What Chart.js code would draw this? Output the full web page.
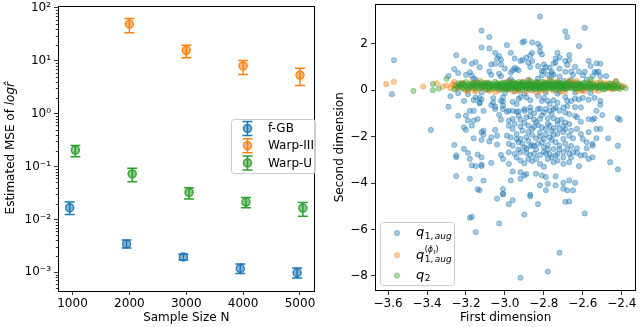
<!DOCTYPE html>
<html><head><meta charset="utf-8">
<script src="https://cdn.jsdelivr.net/npm/chart.js@4.4.0/dist/chart.umd.min.js"></script>
<style>
html,body{margin:0;padding:0;background:#fff;}
#wrap{position:relative;width:640px;height:327px;overflow:hidden;}
.c{position:absolute;top:0;width:320px;height:327px;}
</style></head><body>
<div id="wrap">
<div class="c" style="left:0"><canvas id="left" width="320" height="327"></canvas></div>
<div class="c" style="left:320px"><canvas id="right" width="320" height="327"></canvas></div>
</div>
<script>
// ---------- left panel data ----------
const sampleSizes = [1000, 2000, 3000, 4000, 5000];
const seriesNames = ['f-GB', 'Warp-III', 'Warp-U'];
const fgbMean = [0.0167, 0.00343, 0.00195, 0.00118, 0.00098];
const fgbLow  = [0.0124, 0.00288, 0.00170, 0.00095, 0.00078];
const fgbHigh = [0.0213, 0.00410, 0.00219, 0.00143, 0.00120];
const warp3Mean = [null, 49.4, 15.8, 8.0, 5.37];
const warp3Low  = [null, 34.0, 11.4, 5.5, 3.4];
const warp3High = [null, 63.0, 19.6, 10.1, 7.26];
const warpUMean = [0.205, 0.0726, 0.0324, 0.0213, 0.0164];
const warpULow  = [0.153, 0.0514, 0.0243, 0.0167, 0.0115];
const warpUHigh = [0.250, 0.0927, 0.0397, 0.0261, 0.0210];
const leftYTicks = [1e-3, 1e-2, 1e-1, 1, 10, 100];
const leftYTickLabels = ['10\u207B\u00B3', '10\u207B\u00B2', '10\u207B\u00B9', '10\u2070', '10\u00B9', '10\u00B2'];

// ---------- right panel data ----------
const rightXTicks = [-3.6, -3.4, -3.2, -3.0, -2.8, -2.6, -2.4];
const rightYTicks = [2, 0, -2, -4, -6, -8];
const q1aug = [
[-2.82,3.17],[-2.59,2.69],[-3.12,2.57],[-2.69,2.53],[-3.08,2.29],[-2.68,2.29],[-2.99,1.94],[-3.12,1.84],[-3.08,1.80],[-3.05,1.61],
[-2.97,1.61],[-3.03,1.47],[-2.91,2.06],[-2.90,2.11],[-2.83,2.00],[-2.82,1.87],[-2.86,1.61],[-2.82,1.66],[-2.81,1.54],[-2.87,1.50],
[-2.73,1.61],[-2.74,1.37],[-2.67,1.51],[-2.62,1.90],[-2.69,1.26],[-3.25,1.51],[-3.57,1.29],[-3.21,1.26],[-3.17,1.14],[-3.07,1.11],
[-3.02,1.31],[-2.95,1.37],[-2.92,1.26],[-2.89,1.40],[-2.88,1.19],[-2.93,0.86],[-2.96,0.86],[-3.00,0.93],[-3.02,1.11],[-3.03,0.71],
[-3.07,0.66],[-3.08,0.81],[-3.13,0.99],[-3.18,0.77],[-3.16,0.50],[-3.26,0.91],[-3.24,0.74],[-3.29,0.61],[-3.17,0.63],[-2.83,1.04],
[-2.81,0.83],[-2.79,1.00],[-2.76,0.80],[-2.75,1.16],[-2.72,0.93],[-2.68,1.09],[-2.64,1.01],[-2.62,0.80],[-2.59,0.79],[-2.57,1.26],
[-2.56,1.04],[-2.54,0.79],[-2.53,1.16],[-2.51,1.14],[-2.52,0.80],[-2.55,0.61],[-2.51,0.61],[-2.60,0.64],[-2.65,0.66],[-2.69,0.79],
[-2.72,0.59],[-2.75,0.66],[-2.78,0.66],[-2.81,0.64],[-2.86,2.06],[-2.72,1.40],[-2.67,1.29],[-2.74,1.19],[-2.91,1.30],[-2.86,1.26],
[-2.87,1.00],[-2.80,1.11],[-2.77,0.97],[-2.80,0.83],[-2.66,0.80],[-2.53,0.76],[-2.95,0.96],[-2.94,0.91],[-2.76,0.69],[-2.48,0.61],
[-2.97,0.76],[-3.04,1.37],[-3.15,1.21],[-3.05,1.14],[-3.20,0.66],[-3.02,0.60],[-3.19,-0.17],[-3.15,-0.31],
[-3.58,-0.17],[-3.28,-0.26],[-3.24,-0.13],[-3.21,-0.46],[-3.16,-0.43],[-3.13,-0.56],[-3.12,-0.39],[-3.06,-0.34],[-3.07,-0.64],[-3.11,-0.89],
[-3.05,-0.71],[-3.02,-0.46],[-3.01,-0.81],[-2.96,-0.50],[-2.94,-0.60],[-2.93,-0.37],[-2.92,-0.29],[-2.89,-0.31],[-2.87,-0.43],[-2.83,-0.24],
[-2.81,-0.46],[-2.80,-0.33],[-2.78,-0.46],[-2.77,-0.60],[-2.75,-0.43],[-2.73,-0.54],[-2.69,-0.30],[-2.68,-0.46],[-2.66,-0.47],[-2.64,-0.36],
[-2.62,-0.40],[-2.60,-0.33],[-2.57,-0.41],[-2.54,-0.33],[-2.51,-0.46],[-2.51,-0.63],[-2.61,-0.74],[-2.64,-0.73],[-2.68,-0.69],[-2.70,-0.74],
[-2.74,-0.76],[-2.79,-0.81],[-2.82,-0.79],[-2.87,-0.74],[-2.90,-0.81],[-2.93,-0.91],[-2.96,-0.89],[-2.99,-0.93],[-3.29,-0.71],
[-3.14,-1.24],[-3.19,-1.31],[-3.17,-1.53],[-3.20,-1.71],[-3.38,-1.71],[-3.16,-2.07],[-3.12,-1.81],[-3.11,-1.74],[-3.11,-1.91],[-3.12,-2.14],
[-3.08,-2.21],[-3.07,-2.03],[-3.04,-1.96],[-3.04,-2.34],[-3.05,-1.71],[-3.03,-1.06],[-3.02,-1.27],[-3.05,-0.81],[-3.06,-0.53],[-3.13,-0.34],
[-3.13,-0.53],[-3.01,-0.31],[-3.01,-0.49],[-3.01,-0.67],[-3.26,-2.36],[-3.21,-2.53],[-3.19,-2.70],[-3.25,-2.81],[-3.25,-2.89],[-3.18,-2.96],
[-3.14,-2.77],[-3.12,-2.89],[-3.17,-3.24],[-3.15,-3.27],[-3.12,-3.21],[-3.12,-3.27],[-3.07,-3.13],[-3.02,-2.79],[-3.01,-2.96],[-3.25,-3.70],
[-3.18,-3.81],[-3.11,-3.89],[-3.14,-4.27],[-3.01,-4.26],[-3.01,-4.47],[-3.18,-0.89],[-3.16,-0.89],[-3.24,-1.10],[-3.21,-1.60],[-3.20,-1.09],
[-3.16,-1.31],
[-2.98,-0.89],[-2.94,-0.93],[-2.90,-0.89],[-2.87,-0.89],[-2.85,-0.99],[-2.83,-0.81],[-2.80,-0.96],[-2.77,-0.89],[-2.75,-0.81],[-2.72,-0.89],
[-2.69,-0.96],[-2.67,-1.03],[-2.64,-1.10],[-2.63,-1.17],[-2.57,-1.24],[-2.54,-1.21],[-2.53,-0.89],[-2.50,-1.07],[-2.42,-1.21],[-2.41,-1.27],
[-2.98,-1.31],[-2.96,-1.24],[-2.92,-1.27],[-2.89,-1.17],[-2.85,-1.27],[-2.82,-1.24],[-2.78,-1.21],[-2.75,-1.21],[-2.71,-1.27],[-2.69,-1.39],
[-2.67,-1.46],[-2.61,-1.36],[-2.55,-1.27],[-2.98,-1.53],[-2.96,-1.67],[-2.92,-1.56],[-2.91,-1.74],[-2.88,-1.53],[-2.86,-1.67],[-2.83,-1.50],
[-2.81,-1.60],[-2.79,-1.67],[-2.77,-1.53],[-2.75,-1.64],[-2.73,-1.46],[-2.72,-1.67],[-2.69,-1.67],[-2.66,-1.74],[-2.63,-1.67],[-2.61,-1.89],
[-2.57,-1.81],[-2.53,-1.67],[-2.51,-1.67],[-2.47,-2.07],[-2.99,-1.96],[-2.97,-2.03],[-2.94,-1.89],[-2.92,-2.10],[-2.89,-2.03],[-2.86,-1.93],
[-2.84,-2.07],[-2.82,-1.99],[-2.80,-2.10],[-2.77,-2.03],[-2.75,-1.93],[-2.74,-2.24],[-2.70,-2.10],[-2.67,-1.96],[-2.65,-2.07],[-2.60,-2.10],
[-2.58,-2.24],[-2.55,-2.31],[-2.53,-2.07],[-2.98,-2.31],[-2.96,-2.39],[-2.93,-2.24],[-2.90,-2.46],[-2.87,-2.41],[-2.86,-2.36],[-2.83,-2.31],
[-2.80,-2.46],[-2.78,-2.36],[-2.75,-2.53],[-2.72,-2.39],[-2.70,-2.67],[-2.68,-2.53],[-2.65,-2.67],[-2.63,-2.50],[-2.58,-2.50],[-2.55,-2.39],
[-2.59,-2.79],[-2.55,-2.89],[-2.98,-2.67],[-2.95,-2.74],[-2.92,-2.67],[-2.89,-2.53],[-2.87,-2.79],[-2.85,-2.74],[-2.82,-2.79],[-2.79,-2.74],
[-2.76,-2.89],[-2.74,-2.81],[-2.67,-2.74],[-2.61,-2.81],[-2.42,-2.39],[-2.46,-3.10],[-2.42,-3.41],[-2.98,-3.17],[-2.92,-3.03],[-2.88,-2.96],
[-2.84,-2.96],[-2.82,-3.17],[-2.78,-2.96],[-2.75,-3.10],[-2.73,-3.03],[-2.70,-3.17],[-2.67,-3.10],[-2.62,-3.27],[-2.57,-2.96],[-2.96,-3.50],
[-2.92,-3.53],[-2.90,-3.67],[-2.89,-3.61],[-2.84,-3.60],[-2.81,-3.67],[-2.79,-3.74],[-2.74,-3.71],[-2.97,-3.89],[-2.92,-3.81],[-2.82,-4.10],
[-2.78,-4.03],[-2.74,-4.10],[-2.70,-3.99],[-2.67,-3.89],[-2.64,-3.99],[-2.70,-4.24],[-2.68,-4.31],[-2.79,-4.31],[-2.87,-4.50],
[-2.98,-4.91],[-2.96,-4.74],[-2.87,-4.57],[-2.83,-4.91],[-2.65,-4.31],[-2.69,-4.81],[-2.67,-4.79],[-2.90,-5.36],[-2.59,-5.31],[-2.72,-7.00],
[-2.78,-7.81],[-2.92,-8.08],[-3.13,-4.31],[-3.04,-4.67],[-3.01,-4.48],[-3.18,-5.50],[-3.17,-5.46],[-3.03,-5.74],[-3.15,-6.11],
[-3.08,0.30],[-3.03,0.05],[-2.98,0.40],[-2.95,-0.05],[-2.92,0.20],[-2.88,0.45],[-2.86,0.00],[-2.84,0.35],[-2.81,0.15],[-2.79,-0.10],
[-2.77,0.45],[-2.75,0.25],[-2.72,-0.05],[-2.70,0.40],[-2.68,0.10],[-2.66,0.45],[-2.64,-0.10],[-2.62,0.30],[-2.60,0.00],[-2.58,0.45],
[-2.56,-0.12],[-3.12,-0.10],[-3.15,0.45],[-2.90,-0.15],[-2.83,0.50],[-2.73,-0.15],[-2.97,0.48],[-3.00,-0.12],
[-2.93,-1.10],[-2.90,-1.40],[-2.87,-1.12],[-2.84,-1.38],[-2.81,-1.08],[-2.78,-1.45],[-2.76,-1.02],[-2.73,-1.30],[-2.70,-1.55],[-2.95,-1.45],
[-2.88,-1.80],[-2.85,-1.58],[-2.82,-1.82],[-2.79,-1.90],[-2.76,-1.75],[-2.73,-1.88],[-2.70,-1.80],[-2.94,-2.10],[-2.91,-2.30],[-2.88,-2.18],
[-2.85,-2.40],[-2.81,-2.25],[-2.78,-2.55],[-2.76,-2.15],[-2.72,-2.55],[-2.69,-2.30],[-2.66,-2.40],[-2.93,-2.55],[-2.89,-2.70],[-2.84,-2.55],
[-2.80,-2.65],[-2.77,-2.75],[-2.73,-2.75],[-2.70,-2.90],[-2.66,-2.90],[-2.63,-2.70],[-2.94,-2.90],[-2.90,-3.15],[-2.86,-3.05],[-2.80,-3.30]
];
const q1augPhi = [
[-3.61,0.26],[-3.57,0.36],[-3.42,0.16],[-3.26,0.36],[-3.28,0.09],
[-3.19,-0.03],[-3.16,0.00],[-3.12,0.09],[-3.08,-0.03],[-3.06,0.04],[-3.02,0.09],[-2.94,0.00],[-2.89,-0.06],[-2.79,-0.03],[-2.69,0.09],
[-2.63,-0.03],[-2.77,0.43],[-2.68,0.40],[-2.63,0.40],[-2.53,0.33],[-2.48,0.23],[-2.42,0.09],[-2.40,0.14],[-2.45,0.04],[-2.58,0.09],
[-2.52,-0.03],[-2.43,0.40],[-3.23,0.12],[-3.21,0.28],[-3.18,0.15],[-3.14,0.30],[-3.11,0.20],[-3.10,0.02],[-3.07,0.14],[-3.04,0.25],
[-3.01,0.16],[-2.99,0.03],[-2.97,0.20],[-2.95,0.29],[-2.92,0.11],[-2.90,0.22],[-2.87,0.02],[-2.85,0.17],[-2.83,0.27],[-2.81,0.06],
[-2.78,0.19],[-2.76,0.11],[-2.74,0.32],[-2.72,0.05],[-2.70,0.21],[-2.67,0.15],[-2.65,0.26],[-2.62,0.08],[-2.60,0.18],[-2.57,0.28],
[-2.55,0.12],[-2.50,0.19],[-2.47,0.30],[-2.44,0.17],[-3.05,-0.08],[-2.96,-0.05],[-2.84,-0.10],[-2.71,-0.07],[-2.59,-0.05],[-3.13,0.40],
[-2.98,0.38],[-2.88,0.41],[-2.66,0.38],[-2.51,0.36],
[-3.30,0.20],[-3.27,0.25],[-3.25,0.06],[-3.22,0.33],[-3.20,0.00],[-3.17,0.36],[-3.15,-0.05],[-3.09,0.33],[-3.03,-0.02],[-3.00,0.34],
[-2.93,-0.03],[-2.91,0.37],[-2.86,0.35],[-2.82,-0.04],[-2.80,0.36],[-2.75,-0.02],[-2.73,0.38],[-2.69,-0.06],[-2.64,0.33],[-2.61,-0.02],
[-2.56,0.35],[-2.54,0.02],[-2.49,0.30],[-2.46,0.08],[-2.44,0.28],[-2.41,0.22],[-2.39,0.18],[-3.32,0.15],[-3.35,0.30],[-2.57,0.16],
[-2.52,0.21],[-2.48,0.13],[-3.26,0.22],[-3.24,0.16]
];
const q2 = [
[-3.47,-0.03],[-3.37,0.27],[-3.37,0.00],[-3.34,0.07],[-3.30,0.49],[-3.26,0.04],[-3.23,0.26],
[-3.25,0.18],[-3.24,0.30],[-3.22,0.10],[-3.21,0.22],[-3.20,0.35],[-3.19,0.05],[-3.18,0.19],[-3.17,0.28],[-3.16,0.12],[-3.15,0.24],
[-3.14,0.33],[-3.13,0.08],[-3.12,0.20],[-3.11,0.15],[-3.10,0.31],[-3.09,0.02],[-3.09,0.22],[-3.08,0.13],[-3.07,0.27],[-3.06,0.18],
[-3.05,0.36],[-3.05,0.09],[-3.04,0.21],[-3.03,0.14],[-3.02,0.29],[-3.02,0.05],[-3.01,0.19],[-3.00,0.25],[-3.00,0.11],[-2.99,0.33],
[-2.98,0.17],[-2.98,0.03],[-2.97,0.23],[-2.96,0.12],[-2.96,0.38],[-2.95,0.20],[-2.94,0.08],[-2.94,0.28],[-2.93,0.16],[-2.92,0.24],
[-2.92,0.01],[-2.91,0.34],[-2.90,0.13],[-2.90,0.21],[-2.89,0.07],[-2.88,0.27],[-2.88,0.18],[-2.87,0.40],[-2.86,0.10],[-2.86,0.23],
[-2.85,0.15],[-2.84,0.31],[-2.84,0.04],[-2.83,0.20],[-2.82,0.26],[-2.82,0.12],[-2.81,0.36],[-2.80,0.17],[-2.80,0.06],[-2.79,0.24],
[-2.78,0.14],[-2.78,0.30],[-2.77,0.09],[-2.76,0.21],[-2.76,0.42],[-2.75,0.16],[-2.74,0.27],[-2.74,0.02],[-2.73,0.19],[-2.72,0.11],
[-2.72,0.33],[-2.71,0.22],[-2.70,0.07],[-2.70,0.15],[-2.69,0.28],[-2.68,0.18],[-2.67,0.10],[-2.67,0.37],[-2.66,0.24],[-2.65,0.13],
[-2.64,0.20],[-2.64,0.04],[-2.63,0.29],[-2.62,0.16],[-2.61,0.09],[-2.61,0.25],[-2.60,0.19],[-2.59,0.33],[-2.58,0.12],[-2.57,0.22],
[-2.56,0.06],[-2.56,0.17],[-2.55,0.27],[-2.54,0.14],[-2.53,0.20],[-2.52,0.09],[-2.51,0.30],[-2.50,0.16],[-2.49,0.04],[-2.48,0.23],
[-2.47,0.12],[-2.46,0.14],[-2.45,0.26],[-2.44,0.07],[-2.43,0.37],[-2.42,0.16],[-2.41,0.05],[-2.38,0.09],[-2.56,0.47],[-2.50,0.04],
[-2.99,0.08],[-2.97,0.30],[-2.95,0.14],[-2.93,0.35],[-2.91,0.19],[-2.89,0.26],[-2.87,0.13],[-2.85,0.22],[-2.83,0.09],[-2.81,0.18],
[-2.79,0.32],[-2.77,0.20],[-2.75,0.08],[-2.73,0.25],[-2.71,0.14],[-2.69,0.19],[-3.04,0.30],[-3.08,0.24],[-3.12,0.35],[-3.16,0.21],
[-3.24,0.12],[-3.23,0.21],[-3.22,0.29],[-3.21,0.06],[-3.20,0.16],[-3.19,0.26],[-3.18,0.10],[-3.17,0.20],[-3.16,0.31],[-3.15,0.06],
[-3.14,0.17],[-3.13,0.25],[-3.12,0.12],[-3.11,0.28],[-3.10,0.09],[-3.10,0.19],[-3.09,0.30],[-3.08,0.05],[-3.07,0.17],[-3.06,0.25],
[-3.06,0.10],[-3.05,0.20],[-3.04,0.13],[-3.03,0.27],[-3.03,0.19],[-3.02,0.11],[-3.01,0.24],[-3.01,0.32],[-3.00,0.16],[-3.00,0.04],
[-2.99,0.21],[-2.99,0.13],[-2.98,0.27],[-2.98,0.10],[-2.97,0.18],[-2.97,0.06],[-2.96,0.25],[-2.96,0.16],[-2.95,0.31],[-2.95,0.09],
[-2.94,0.19],[-2.94,0.13],[-2.93,0.24],[-2.93,0.05],[-2.92,0.17],[-2.92,0.29],[-2.91,0.10],[-2.91,0.23],[-2.90,0.16],[-2.90,0.33],
[-2.89,0.20],[-2.89,0.12],[-2.88,0.06],[-2.88,0.23],[-2.87,0.17],[-2.87,0.30],[-2.86,0.14],[-2.86,0.19],[-2.85,0.26],[-2.85,0.07],
[-2.84,0.18],[-2.84,0.24],[-2.83,0.13],[-2.83,0.34],[-2.82,0.19],[-2.82,0.05],[-2.81,0.23],[-2.81,0.11],[-2.80,0.28],[-2.80,0.20],
[-2.79,0.15],[-2.79,0.08],[-2.78,0.22],[-2.78,0.19],[-2.77,0.27],[-2.77,0.13],[-2.76,0.17],[-2.76,0.06],[-2.75,0.23],[-2.75,0.30],
[-2.74,0.12],[-2.74,0.20],[-2.73,0.15],[-2.73,0.34],[-2.72,0.22],[-2.72,0.07],[-2.71,0.18],[-2.71,0.29],[-2.70,0.11],[-2.70,0.24],
[-2.69,0.14],[-2.69,0.05],[-2.68,0.21],[-2.68,0.31],[-2.67,0.16],[-2.66,0.09],[-2.66,0.19],[-2.65,0.27],[-2.64,0.13],[-2.63,0.21],
[-2.63,0.08],[-2.62,0.24],[-2.61,0.15],[-2.60,0.29],[-2.60,0.10],[-2.59,0.20],[-2.58,0.17],[-2.57,0.08],[-2.57,0.30],[-2.56,0.22],
[-2.55,0.13],[-2.54,0.24],[-2.53,0.10],[-2.52,0.18],[-2.51,0.12],[-2.50,0.25],[-2.49,0.15],[-2.48,0.08],[-2.47,0.20],[-2.46,0.29],
[-2.45,0.11],[-2.44,0.19],[-2.43,0.09],[-2.42,0.24],[-2.40,0.13]
];
const scatterNames = ['q1,aug', 'q1,aug(phi_t)', 'q2'];

// ---------- styling ----------
const FONT = 'DejaVu Sans';
const C_BLUE = [31,119,180], C_ORANGE = [255,127,14], C_GREEN = [44,160,44];
const rgba = (c,a) => `rgba(${c[0]},${c[1]},${c[2]},${a})`;
const minus = s => String(s).replace('-', '\u2212');

function frame(chart){
  const {ctx, chartArea:a} = chart;
  ctx.save(); ctx.strokeStyle = '#000'; ctx.lineWidth = 1;
  ctx.strokeRect(Math.round(a.left)+0.5, Math.round(a.top)+0.5, Math.round(a.right-a.left)-1, Math.round(a.bottom-a.top)-1);
  ctx.restore();
}
function roundRect(ctx,x,y,w,h,r){
  ctx.beginPath(); ctx.moveTo(x+r,y); ctx.lineTo(x+w-r,y); ctx.arcTo(x+w,y,x+w,y+r,r);
  ctx.lineTo(x+w,y+h-r); ctx.arcTo(x+w,y+h,x+w-r,y+h,r); ctx.lineTo(x+r,y+h); ctx.arcTo(x,y+h,x,y+h-r,r);
  ctx.lineTo(x,y+r); ctx.arcTo(x,y,x+r,y,r); ctx.closePath();
}
const fitY = w => s => { s.width = w; s.paddingTop = 0; s.paddingBottom = 0; };
const fitX = h => s => { s.height = h; s.paddingLeft = 0; s.paddingRight = 0; };

// ---------- left chart ----------
const dodge = [-50, 0, 50];
const leftSeries = [
  {name: seriesNames[0], mean: fgbMean, low: fgbLow, high: fgbHigh, color: C_BLUE},
  {name: seriesNames[1], mean: warp3Mean, low: warp3Low, high: warp3High, color: C_ORANGE},
  {name: seriesNames[2], mean: warpUMean, low: warpULow, high: warpUHigh, color: C_GREEN}
];

const errorBarPlugin = {
  id: 'errorBars',
  beforeDatasetsDraw(chart){
    const ctx = chart.ctx, xs = chart.scales.x, ys = chart.scales.y;
    ctx.save(); ctx.lineWidth = 1.5;
    leftSeries.forEach((s, i) => {
      ctx.strokeStyle = rgba(s.color, 1);
      sampleSizes.forEach((n, j) => {
        if (s.mean[j] == null) return;
        const px = xs.getPixelForValue(n + dodge[i]);
        const y1 = ys.getPixelForValue(s.low[j]), y2 = ys.getPixelForValue(s.high[j]);
        ctx.beginPath();
        ctx.moveTo(px, y1); ctx.lineTo(px, y2);
        ctx.moveTo(px-5, y1); ctx.lineTo(px+5, y1);
        ctx.moveTo(px-5, y2); ctx.lineTo(px+5, y2);
        ctx.stroke();
      });
    });
    ctx.restore();
  },
  afterDatasetsDraw(chart){
    frame(chart);
    const ctx = chart.ctx, ys = chart.scales.y, a = chart.chartArea;
    ctx.save(); ctx.strokeStyle = '#000'; ctx.lineWidth = 0.8;
    for (let e = -4; e <= 2; e++) for (let m = 2; m <= 9; m++) {
      const v = m * Math.pow(10, e);
      if (v < ys.min || v > ys.max) continue;
      const py = Math.round(ys.getPixelForValue(v)) + 0.5;
      ctx.beginPath(); ctx.moveTo(a.left, py); ctx.lineTo(a.left - 2.2, py); ctx.stroke();
    }
    ctx.restore();
    ctx.save();
    roundRect(ctx, 231.5, 119.5, 84, 54, 3);
    ctx.fillStyle = 'rgba(255,255,255,0.8)'; ctx.fill();
    ctx.strokeStyle = '#cccccc'; ctx.lineWidth = 1; ctx.stroke();
    leftSeries.forEach((s, i) => {
      const y = 128.5 + 17.2 * i, x = 247.5;
      ctx.strokeStyle = rgba(s.color, 1); ctx.lineWidth = 1.5;
      ctx.beginPath();
      ctx.moveTo(x, y-7); ctx.lineTo(x, y+7);
      ctx.moveTo(x-5, y-7); ctx.lineTo(x+5, y-7);
      ctx.moveTo(x-5, y+7); ctx.lineTo(x+5, y+7);
      ctx.stroke();
      ctx.beginPath(); ctx.arc(x, y, 4, 0, Math.PI*2);
      ctx.fillStyle = rgba(s.color, 0.55); ctx.fill();
      ctx.strokeStyle = rgba(s.color, 0.9); ctx.stroke();
      ctx.fillStyle = '#000'; ctx.font = `12px "${FONT}"`; ctx.textBaseline = 'middle';
      ctx.fillText(s.name, 268, y + 0.5);
    });
    ctx.restore();
    ctx.save();
    ctx.translate(11, (a.top + a.bottom) / 2);
    ctx.rotate(-Math.PI/2);
    ctx.fillStyle = '#000'; ctx.textBaseline = 'middle';
    const p1 = 'Estimated MSE of ', p2 = 'log', p3 = 'r\u0302';
    ctx.font = `12px "${FONT}"`; const w1 = ctx.measureText(p1).width;
    ctx.font = `italic 12px "${FONT}"`; const w2 = ctx.measureText(p2).width, w3 = ctx.measureText('r').width;
    let x0 = -(w1 + w2 + w3) / 2;
    ctx.font = `12px "${FONT}"`; ctx.fillText(p1, x0, 0);
    ctx.font = `italic 12px "${FONT}"`; ctx.fillText(p2, x0 + w1, 0); ctx.fillText(p3, x0 + w1 + w2, 0);
    ctx.restore();
  }
};

new Chart(document.getElementById('left'), {
  type: 'scatter',
  data: {
    datasets: leftSeries.map((s, i) => ({
      label: s.name,
      data: sampleSizes.map((n, j) => s.mean[j] == null ? null : {x: n + dodge[i], y: s.mean[j]}).filter(p => p),
      pointRadius: 4, pointHoverRadius: 4, pointBorderWidth: 1.5,
      backgroundColor: rgba(s.color, 0.55), borderColor: rgba(s.color, 0.9)
    }))
  },
  options: {
    responsive: false, animation: false, devicePixelRatio: 1,
    layout: {padding: {left: 0, right: 1, top: 3, bottom: 0}},
    plugins: {legend: {display: false}, tooltip: {enabled: false}},
    scales: {
      x: {
        type: 'linear', min: 745, max: 5255,
        afterBuildTicks: s => { s.ticks = sampleSizes.map(v => ({value: v})); },
        afterFit: fitX(36),
        grid: {display: true, drawOnChartArea: false, drawTicks: true, tickLength: 4, color: '#000', tickWidth: 0.8},
        border: {display: false},
        ticks: {color: '#000', font: {family: FONT, size: 12}, padding: 2, maxRotation: 0, callback: v => String(v)},
        title: {display: true, text: 'Sample Size N', color: '#000', font: {family: FONT, size: 12}, padding: {top: 0, bottom: 2}}
      },
      y: {
        type: 'logarithmic', min: 0.000443, max: 111,
        afterBuildTicks: s => { s.ticks = leftYTicks.map(v => ({value: v})); },
        afterFit: fitY(58),
        grid: {display: true, drawOnChartArea: false, drawTicks: true, tickLength: 4, color: '#000', tickWidth: 0.8},
        border: {display: false},
        ticks: {color: '#000', font: {family: FONT, size: 12}, padding: 3,
          callback: v => { const k = leftYTicks.findIndex(t => Math.abs(Math.log10(t) - Math.log10(v)) < 1e-6); return k >= 0 ? leftYTickLabels[k] : ''; }}
      }
    }
  },
  plugins: [errorBarPlugin]
});

// ---------- right chart ----------
const rightPlugin = {
  id: 'rightDecor',
  afterDatasetsDraw(chart){
    frame(chart);
    const ctx = chart.ctx;
    ctx.save();
    roundRect(ctx, 60.5, 222.5, 74, 63, 3);
    ctx.fillStyle = 'rgba(255,255,255,0.8)'; ctx.fill();
    ctx.strokeStyle = '#cccccc'; ctx.lineWidth = 1; ctx.stroke();
    const cols = [C_BLUE, C_ORANGE, C_GREEN];
    const ys = [233, 255, 275.5];
    cols.forEach((c, i) => {
      ctx.beginPath(); ctx.arc(77, ys[i], 2.6, 0, Math.PI*2);
      ctx.fillStyle = rgba(c, 0.4); ctx.fill();
      ctx.strokeStyle = rgba(c, 0.4); ctx.lineWidth = 1; ctx.stroke();
    });
    ctx.fillStyle = '#000'; ctx.textBaseline = 'alphabetic';
    const big = `italic 13px "${FONT}"`, smallI = `italic 9px "${FONT}"`, smallR = `9px "${FONT}"`;
    function qsub(y, sub, sup){
      ctx.font = big; ctx.fillText('q', 96, y + 3);
      const xq = 96 + ctx.measureText('q').width + 0.5;
      let x = xq;
      if (sub === '2') { ctx.font = smallR; ctx.fillText('2', x, y + 5.5); return; }
      ctx.font = smallR; ctx.fillText('1,', x, y + 5.5); x += ctx.measureText('1,').width + 1.5;
      ctx.font = smallI; ctx.fillText('aug', x, y + 5.5);
      if (sup) {
        let sx = xq;
        const sf = `8px "${FONT}"`, sfi = `italic 8px "${FONT}"`, tf = `italic 6px "${FONT}"`;
        ctx.font = sf; ctx.fillText('(', sx, y - 4); sx += ctx.measureText('(').width;
        ctx.font = sfi; ctx.fillText('\u03D5', sx, y - 4); sx += ctx.measureText('\u03D5').width;
        ctx.font = tf; ctx.fillText('t', sx, y - 2.5); sx += ctx.measureText('t').width;
        ctx.font = sf; ctx.fillText(')', sx, y - 4);
      }
    }
    qsub(ys[0], '1aug', false);
    qsub(ys[1] + 1, '1aug', true);
    qsub(ys[2], '2', false);
    ctx.restore();
  }
};

const scatterSets = [
  {label: scatterNames[0], pts: q1aug, color: C_BLUE, order: 3},
  {label: scatterNames[1], pts: q1augPhi, color: C_ORANGE, order: 2},
  {label: scatterNames[2], pts: q2, color: C_GREEN, order: 1}
];

new Chart(document.getElementById('right'), {
  type: 'scatter',
  data: {
    datasets: scatterSets.map(s => ({
      label: s.label, order: s.order,
      data: s.pts.map(p => ({x: p[0], y: p[1]})),
      pointRadius: 2.6, pointHoverRadius: 2.6, pointBorderWidth: 1,
      backgroundColor: rgba(s.color, 0.4), borderColor: rgba(s.color, 0.4)
    }))
  },
  options: {
    responsive: false, animation: false, devicePixelRatio: 1,
    layout: {padding: {left: 0, right: 3, top: 3, bottom: 0}},
    plugins: {legend: {display: false}, tooltip: {enabled: false}},
    scales: {
      x: {
        type: 'linear', min: -3.667, max: -2.325,
        afterBuildTicks: s => { s.ticks = rightXTicks.map(v => ({value: v})); },
        afterFit: fitX(36),
        grid: {display: true, drawOnChartArea: false, drawTicks: true, tickLength: 4, color: '#000', tickWidth: 0.8},
        border: {display: false},
        ticks: {color: '#000', font: {family: FONT, size: 12}, padding: 2, maxRotation: 0, autoSkip: false,
          callback: v => minus(Number(v).toFixed(1))},
        title: {display: true, text: 'First dimension', color: '#000', font: {family: FONT, size: 12}, padding: {top: 0, bottom: 2}}
      },
      y: {
        type: 'linear', min: -8.65, max: 3.73,
        afterBuildTicks: s => { s.ticks = rightYTicks.map(v => ({value: v})); },
        afterFit: fitY(55),
        grid: {display: true, drawOnChartArea: false, drawTicks: true, tickLength: 4, color: '#000', tickWidth: 0.8},
        border: {display: false},
        ticks: {color: '#000', font: {family: FONT, size: 12}, padding: 3, callback: v => minus(String(v))},
        title: {display: true, text: 'Second dimension', color: '#000', font: {family: FONT, size: 12}, padding: {top: 13, bottom: 0}}
      }
    }
  },
  plugins: [rightPlugin]
});
</script>
</body></html>
